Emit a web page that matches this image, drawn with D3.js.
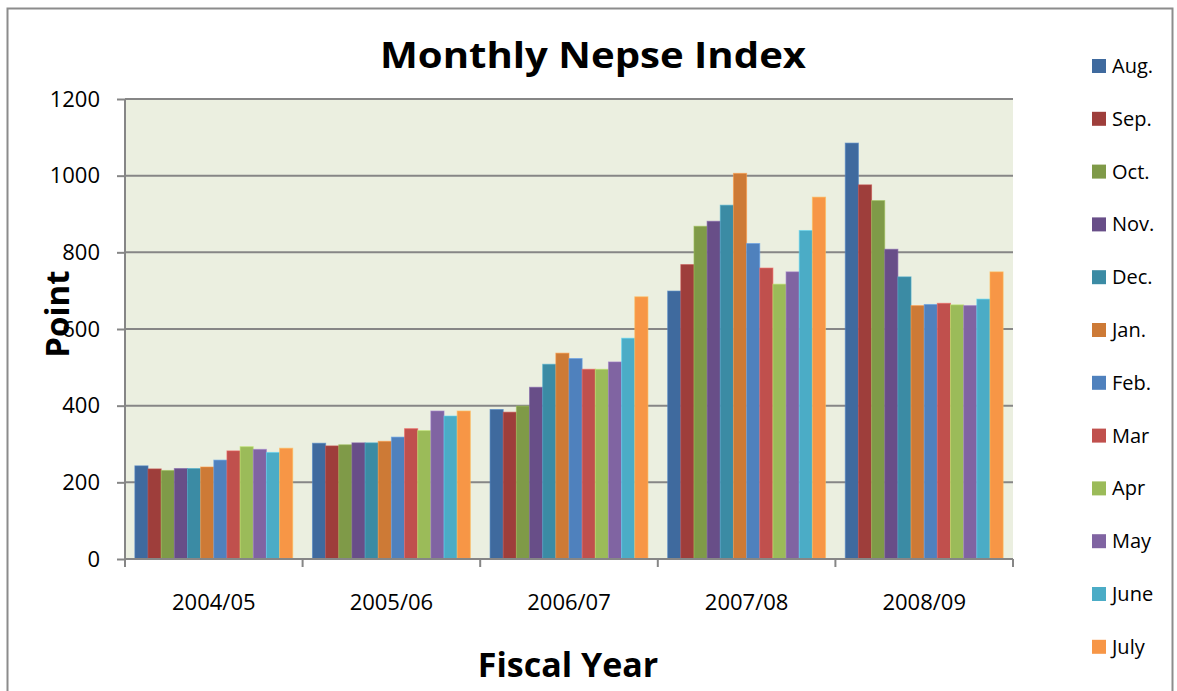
<!DOCTYPE html>
<html>
<head>
<meta charset="utf-8">
<script src="https://cdn.jsdelivr.net/npm/d3@7"></script>
<style>
  body { margin: 0; background: #fff; }
  svg { display: block; font-family: "Open Sans", Lato, sans-serif; }
</style>
</head>
<body>
<svg id="chart" width="1177" height="691"></svg>
<script>
// fiscal years on the x axis
const years = ["2004/05", "2005/06", "2006/07", "2007/08", "2008/09"];
const months = ["Aug.", "Sep.", "Oct.", "Nov.", "Dec.", "Jan.", "Feb.", "Mar", "Apr", "May", "June", "July"];
const monthColors = ["#3F6A9E", "#9E3E3B", "#7F9A48", "#684E88", "#3B8BA4", "#CD7A36",
                     "#4F81BD", "#C0504D", "#9BBB59", "#8064A2", "#4BACC6", "#F79646"];

// index points, one row per fiscal year, Aug..July
const fy0405 = [243, 235, 231, 236, 236, 240, 258, 282, 293, 286, 278, 289];
const fy0506 = [302, 295, 298, 303, 303, 307, 318, 340, 335, 386, 373, 386];
const fy0607 = [390, 383, 399, 448, 508, 537, 523, 495, 495, 514, 576, 684];
const fy0708 = [699, 768, 868, 881, 923, 1006, 823, 759, 717, 749, 857, 944];
const fy0809 = [1085, 976, 935, 808, 736, 661, 664, 667, 663, 661, 678, 749];
const yearValues = [fy0405, fy0506, fy0607, fy0708, fy0809];

const yTicks = [0, 200, 400, 600, 800, 1000, 1200];

const svg = d3.select("#chart");
const plot = { left: 125, top: 99, right: 1013, bottom: 559 };

// outer chart frame
svg.append("rect")
    .attr("x", 7.5).attr("y", 8.5)
    .attr("width", 1165).attr("height", 700)
    .attr("fill", "#fff")
    .attr("stroke", "#8c8c8c")
    .attr("stroke-width", 2);

const x0 = d3.scaleBand().domain(years).range([plot.left, plot.right]).paddingInner(0).paddingOuter(0);
const x1 = d3.scaleBand().domain(months).range([0, x0.bandwidth()]).paddingOuter(0.75).paddingInner(0);
const y = d3.scaleLinear().domain([0, 1200]).range([plot.bottom, plot.top]);

// plot background
svg.append("rect")
    .attr("x", plot.left).attr("y", plot.top)
    .attr("width", plot.right - plot.left).attr("height", plot.bottom - plot.top)
    .attr("fill", "#EBEFE0");

// gridlines
svg.append("g")
    .selectAll("line")
    .data(yTicks.filter(t => t > 0))
    .join("line")
    .attr("x1", plot.left).attr("x2", plot.right)
    .attr("y1", d => y(d)).attr("y2", d => y(d))
    .attr("stroke", "#868686")
    .attr("stroke-width", 2);

// bars
const groups = svg.append("g")
    .selectAll("g")
    .data(years)
    .join("g")
    .attr("transform", d => `translate(${x0(d)},0)`);

groups.selectAll("rect")
    .data((d, i) => yearValues[i].map((v, j) => ({ month: months[j], value: v, color: monthColors[j] })))
    .join("rect")
    .attr("x", d => x1(d.month))
    .attr("y", d => y(d.value))
    .attr("width", x1.bandwidth())
    .attr("height", d => y(0) - y(d.value))
    .attr("fill", d => d.color)
    .attr("stroke", d => d3.color(d.color).brighter(0.6))
    .attr("stroke-opacity", 0.6)
    .attr("stroke-width", 1);

// y axis
const yAxis = svg.append("g")
    .attr("transform", `translate(${plot.left},0)`)
    .call(d3.axisLeft(y).tickValues(yTicks).tickSize(8).tickPadding(17).tickFormat(d3.format("d")));
yAxis.selectAll("line, path").attr("stroke", "#868686").attr("stroke-width", 2);
yAxis.select(".domain").attr("d", `M0,${plot.top}V${plot.bottom}`);
yAxis.selectAll("text").attr("font-size", 22).attr("fill", "#000").attr("font-family", "Open Sans");

// x axis with ticks at group boundaries
const xAxis = svg.append("g")
    .attr("transform", `translate(0,${plot.bottom})`);
xAxis.append("line")
    .attr("x1", plot.left).attr("x2", plot.right)
    .attr("stroke", "#868686").attr("stroke-width", 2);
xAxis.selectAll(".tick")
    .data(years.map(d => x0(d)).concat([plot.right]))
    .join("line")
    .attr("class", "tick")
    .attr("x1", d => d).attr("x2", d => d)
    .attr("y1", 0).attr("y2", 8)
    .attr("stroke", "#868686").attr("stroke-width", 2);
xAxis.selectAll("text")
    .data(years)
    .join("text")
    .attr("x", d => x0(d) + x0.bandwidth() / 2)
    .attr("y", 51)
    .attr("text-anchor", "middle")
    .attr("font-size", 22)
    .text(d => d);

// titles (reference glyphs are a bit wider than Open Sans, so stretch horizontally)
svg.append("text")
    .attr("transform", "translate(593,68) scale(1.115,1)")
    .attr("text-anchor", "middle")
    .attr("font-size", 36).attr("font-weight", "bold")
    .text("Monthly Nepse Index");

svg.append("text")
    .attr("x", 568).attr("y", 677)
    .attr("text-anchor", "middle")
    .attr("font-size", 34).attr("font-weight", "bold")
    .text("Fiscal Year");

svg.append("text")
    .attr("transform", "translate(69,314) rotate(-90)")
    .attr("text-anchor", "middle")
    .attr("font-size", 33).attr("font-weight", "bold")
    .text("Point");

// legend
const legend = svg.append("g")
    .selectAll("g")
    .data(months)
    .join("g")
    .attr("transform", (d, i) => `translate(1092,${66 + i * 52.8})`);
legend.append("rect")
    .attr("x", 0).attr("y", -7)
    .attr("width", 14).attr("height", 14)
    .attr("fill", (d, i) => monthColors[i]);
legend.append("text")
    .attr("x", 20).attr("y", 7)
    .attr("font-size", 20)
    .text(d => d);
</script>
</body>
</html>
